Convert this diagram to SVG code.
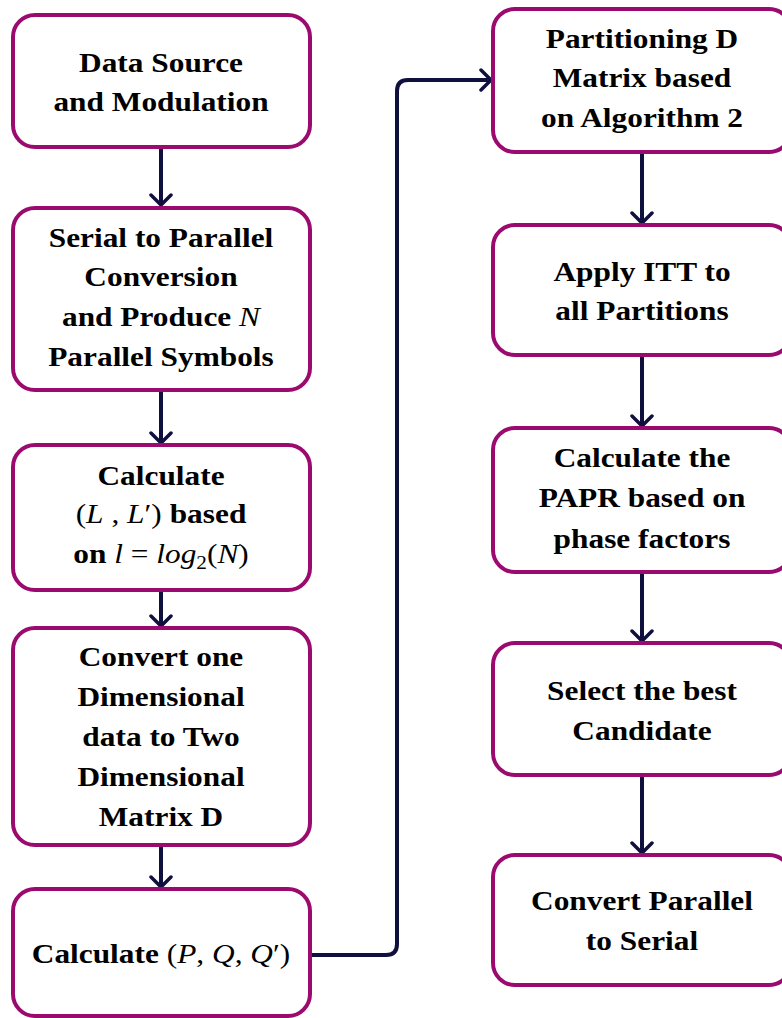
<svg xmlns="http://www.w3.org/2000/svg" width="782" height="1018" viewBox="0 0 782 1018">
<style>
.box{fill:#fff;stroke:#9b0a6f;stroke-width:4}
.t{font-family:"Liberation Serif","Times New Roman",serif;font-weight:bold;font-size:28px;fill:#000;text-anchor:middle}
.m{font-weight:normal;font-style:italic}
.r{font-weight:normal;font-style:normal}
.c{fill:none;stroke:#10103f;stroke-width:4;stroke-linejoin:round}
</style>
<defs>
<marker id="ah" viewBox="0 0 14 24" refX="12" refY="12" markerWidth="14" markerHeight="24" markerUnits="userSpaceOnUse" orient="auto">
<path d="M2,2 L12,12 L2,22" fill="none" stroke="#10103f" stroke-width="3.5" stroke-linecap="round" stroke-linejoin="round"/>
</marker>
</defs>
<rect width="782" height="1018" fill="#fff"/>
<g id="connectors">
<path class="c" marker-end="url(#ah)" d="M161,148 V205"/>
<path class="c" marker-end="url(#ah)" d="M161,391 V443"/>
<path class="c" marker-end="url(#ah)" d="M161,591 V626"/>
<path class="c" marker-end="url(#ah)" d="M161,846 V887"/>
<path class="c" marker-end="url(#ah)" d="M312,955 H386 Q397,955 397,944 V91 Q397,80 408,80 H491"/>
<path class="c" marker-end="url(#ah)" d="M642,153 V223"/>
<path class="c" marker-end="url(#ah)" d="M642,356 V426"/>
<path class="c" marker-end="url(#ah)" d="M642,573 V641"/>
<path class="c" marker-end="url(#ah)" d="M642,776 V853"/>
</g>
<g id="n1"><rect class="box" x="13" y="15" width="297" height="132" rx="22"/>
<text class="t" transform="translate(161,0) scale(1.12,1)"><tspan x="0" y="72">Data Source</tspan><tspan x="0" y="111">and Modulation</tspan></text></g>
<g id="n2"><rect class="box" x="13" y="208" width="297" height="182" rx="22"/>
<text class="t" transform="translate(161,0) scale(1.12,1)"><tspan x="0" y="247">Serial to Parallel</tspan><tspan x="0" y="286">Conversion</tspan><tspan x="0" y="326">and Produce <tspan class="m">N</tspan></tspan><tspan x="0" y="366">Parallel Symbols</tspan></text></g>
<g id="n3"><rect class="box" x="13" y="445" width="297" height="145" rx="22"/>
<text class="t" transform="translate(161,0) scale(1.12,1)"><tspan x="0" y="485">Calculate</tspan><tspan x="0" y="523"><tspan class="r">(</tspan><tspan class="m">L</tspan><tspan class="r"> ,  </tspan><tspan class="m">L</tspan><tspan class="r">′)</tspan> based</tspan><tspan x="0" y="563">on <tspan class="m">l</tspan><tspan class="r"> = </tspan><tspan class="m">log</tspan><tspan class="r" font-size="19" dy="6">2</tspan><tspan class="r" dy="-6">(</tspan><tspan class="m">N</tspan><tspan class="r">)</tspan></tspan></text></g>
<g id="n4"><rect class="box" x="13" y="628" width="297" height="217" rx="22"/>
<text class="t" transform="translate(161,0) scale(1.12,1)"><tspan x="0" y="666">Convert one</tspan><tspan x="0" y="706">Dimensional</tspan><tspan x="0" y="746">data to Two</tspan><tspan x="0" y="786">Dimensional</tspan><tspan x="0" y="826">Matrix D</tspan></text></g>
<g id="n5"><rect class="box" x="13" y="889" width="297" height="127" rx="22"/>
<text class="t" transform="translate(161,0) scale(1.12,1)"><tspan x="0" y="963">Calculate <tspan class="r">(</tspan><tspan class="m">P</tspan><tspan class="r">, </tspan><tspan class="m">Q</tspan><tspan class="r">, </tspan><tspan class="m">Q</tspan><tspan class="r">′)</tspan></tspan></text></g>
<g id="n6"><rect class="box" x="493" y="9" width="298" height="143" rx="22"/>
<text class="t" transform="translate(642,0) scale(1.12,1)"><tspan x="0" y="48">Partitioning D</tspan><tspan x="0" y="87">Matrix based</tspan><tspan x="0" y="127">on Algorithm 2</tspan></text></g>
<g id="n7"><rect class="box" x="493" y="225" width="298" height="130" rx="22"/>
<text class="t" transform="translate(642,0) scale(1.12,1)"><tspan x="0" y="281">Apply ITT to</tspan><tspan x="0" y="320">all Partitions</tspan></text></g>
<g id="n8"><rect class="box" x="493" y="428" width="298" height="144" rx="22"/>
<text class="t" transform="translate(642,0) scale(1.12,1)"><tspan x="0" y="467">Calculate the</tspan><tspan x="0" y="507">PAPR based on</tspan><tspan x="0" y="548">phase factors</tspan></text></g>
<g id="n9"><rect class="box" x="493" y="643" width="298" height="132" rx="22"/>
<text class="t" transform="translate(642,0) scale(1.12,1)"><tspan x="0" y="700">Select the best</tspan><tspan x="0" y="740">Candidate</tspan></text></g>
<g id="n10"><rect class="box" x="493" y="855" width="298" height="130" rx="22"/>
<text class="t" transform="translate(642,0) scale(1.12,1)"><tspan x="0" y="910">Convert Parallel</tspan><tspan x="0" y="950">to Serial</tspan></text></g>
</svg>
